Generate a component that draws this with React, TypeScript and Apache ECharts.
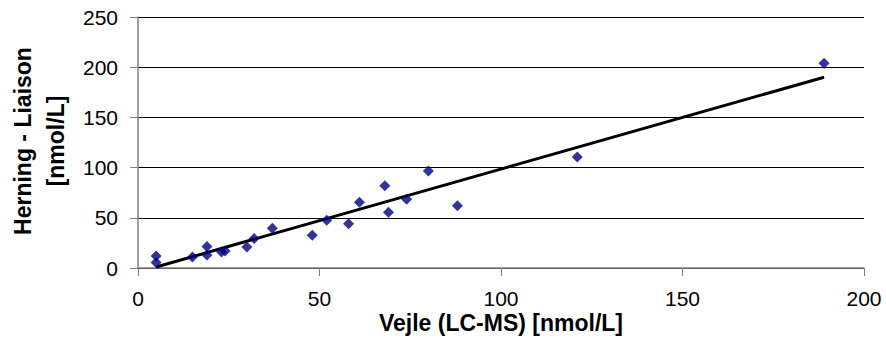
import React, { useEffect, useRef } from "react";
import * as echarts from "echarts";

const vejleX: number[] = [5, 5, 15, 19, 19, 23, 24, 30, 32, 37, 48, 52, 58, 61, 68, 69, 74, 80, 88, 121, 189];
const herningY: number[] = [12, 5.5, 11, 21.5, 13, 16, 17, 21, 29.5, 39.5, 32.5, 47.5, 44, 65.5, 82, 55.5, 68.5, 96.5, 62, 110.5, 204];
const trendX: number[] = [5, 189];
const trendY: number[] = [1, 190];
const xTicks = { min: 0, max: 200, interval: 50 };
const yTicks = { min: 0, max: 250, interval: 50 };
const xTitle = "Vejle (LC-MS) [nmol/L]";
const yTitle = "Herning - Liaison\n[nmol/L]";

export default function App() {
  const ref = useRef<HTMLDivElement>(null);
  useEffect(() => {
    if (!ref.current) return;
    const chart = echarts.init(ref.current, null, { renderer: "svg" });
    const font = "'Liberation Sans', Arial, sans-serif";
    chart.setOption({
      animation: false,
      backgroundColor: "#ffffff",
      grid: { left: 138, right: 22, top: 17, bottom: 94, containLabel: false, outerBoundsMode: "none" },
      xAxis: {
        type: "value",
        min: xTicks.min,
        max: xTicks.max,
        interval: xTicks.interval,
        axisLine: { show: true, onZero: false, lineStyle: { color: "#808080", width: 1.5 } },
        axisTick: { show: true, length: 8, lineStyle: { color: "#808080" } },
        axisLabel: { color: "#000", fontSize: 21, fontFamily: font, margin: 20 },
        splitLine: { show: false },
      },
      yAxis: {
        type: "value",
        min: yTicks.min,
        max: yTicks.max,
        interval: yTicks.interval,
        axisLine: { show: true, onZero: false, lineStyle: { color: "#808080", width: 1.5 } },
        axisTick: { show: true, length: 8, lineStyle: { color: "#808080" } },
        axisLabel: { color: "#000", fontSize: 21, fontFamily: font, margin: 20 },
        splitLine: { show: true, lineStyle: { color: "#000", width: 1 } },
      },
      graphic: [
        {
          type: "text",
          x: 501,
          y: 323,
          style: {
            text: xTitle,
            font: `bold 23px ${font}`,
            fill: "#000",
            align: "center",
            verticalAlign: "middle",
          },
        },
        {
          type: "text",
          x: 39,
          y: 141,
          rotation: Math.PI / 2,
          style: {
            text: yTitle,
            font: `bold 23px ${font}`,
            fill: "#000",
            align: "center",
            verticalAlign: "middle",
            lineHeight: 33,
          },
        },
      ],
      series: [
        {
          type: "line",
          data: trendX.map((x, i) => [x, trendY[i]]),
          symbol: "none",
          lineStyle: { color: "#000", width: 3 },
          z: 2,
        },
        {
          type: "scatter",
          data: vejleX.map((x, i) => [x, herningY[i]]),
          symbol: "diamond",
          symbolSize: 11,
          itemStyle: { color: "#000080" },
          z: 3,
        },
      ],
    });
    return () => chart.dispose();
  }, []);
  return (
    <div
      ref={ref}
      style={{ position: "fixed", left: 0, top: 0, width: 886, height: 362 }}
    />
  );
}
